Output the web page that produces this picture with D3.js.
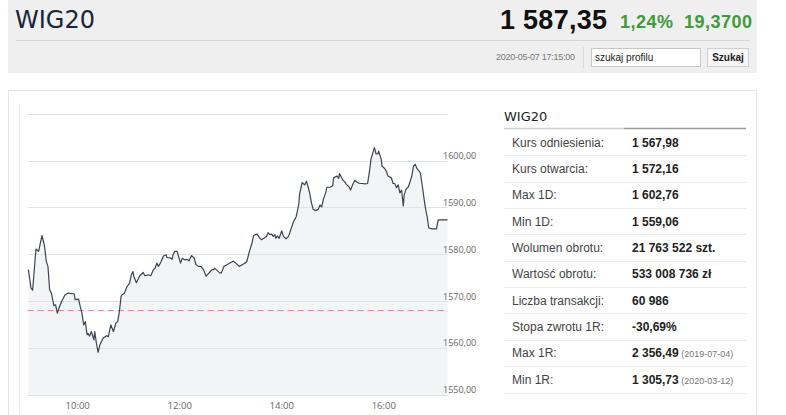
<!DOCTYPE html>
<html lang="pl">
<head>
<meta charset="UTF-8">
<title>WIG20</title>
<script src="https://d3js.org/d3.v7.min.js"></script>
<style>
  body { margin: 0; padding: 0; background: #fff; }
  svg { display: block; }
</style>
</head>
<body>
<svg id="page" width="786" height="415"></svg>

<script>
// intraday quotes
const times = ["09:02","09:05","09:07","09:10","09:11","09:14","09:18","09:21","09:23","09:25",
  "09:27","09:29","09:32","09:34","09:36","09:38","09:41","09:45","09:49","09:56",
  "09:57","10:01","10:03","10:05","10:07","10:09","10:11","10:12","10:14","10:16",
  "10:19","10:20","10:22","10:24","10:26","10:30","10:34","10:36","10:39","10:42",
  "10:45","10:47","10:49","10:51","10:52","10:55","10:58","11:01","11:03","11:05",
  "11:06","11:09","11:13","11:17","11:19","11:23","11:26","11:29","11:31","11:33",
  "11:35","11:38","11:41","11:44","11:45","11:49","11:51","11:52","11:54","11:57",
  "11:59","12:01","12:03","12:06","12:09","12:11","12:14","12:17","12:19","12:22",
  "12:25","12:28","12:31","12:34","12:36","12:38","12:40","12:41","12:43","12:47",
  "12:49","12:52","12:55","12:59","13:03","13:06","13:10","13:13","13:17","13:19",
  "13:22","13:25","13:27","13:31","13:34","13:36","13:39","13:42","13:44","13:46",
  "13:48","13:50","13:52","13:53","13:55","13:57","14:00","14:02","14:05","14:08",
  "14:10","14:14","14:17","14:20","14:21","14:24","14:27","14:29","14:31","14:33",
  "14:35","14:37","14:40","14:43","14:45","14:47","14:49","14:52","14:53","14:57",
  "15:00","15:01","15:05","15:07","15:08","15:12","15:14","15:16","15:19","15:21",
  "15:24","15:26","15:29","15:32","15:35","15:38","15:41","15:43","15:45","15:49",
  "15:51","15:53","15:54","15:57","15:58","16:01","16:03","16:05","16:09","16:11",
  "16:13","16:15","16:17","16:19","16:21","16:23","16:24","16:26","16:29","16:31",
  "16:33","16:35","16:37","16:39","16:43","16:45","16:47","16:49","16:51","16:53",
  "16:57","17:02","17:04","17:15"];
const values = [1576.7,1572.8,1572.3,1579.2,1581.1,1580.6,1584.0,1581.7,1578.5,1577.4,
  1572.4,1571.7,1569.0,1569.2,1567.4,1568.5,1569.9,1571.3,1571.7,1571.5,
  1570.3,1570.4,1568.8,1567.4,1564.9,1565.6,1562.8,1563.1,1562.5,1563.5,
  1561.7,1563.5,1561.0,1559.06,1560.6,1562.1,1562.6,1562.4,1564.9,1563.5,
  1565.3,1565.6,1567.7,1571.0,1571.3,1571.7,1573.1,1573.8,1575.6,1576.3,
  1575.3,1573.9,1575.4,1576.1,1575.4,1575.6,1575.4,1576.7,1577.0,1578.1,
  1577.4,1578.4,1579.6,1579.9,1579.3,1579.2,1578.9,1579.8,1580.6,1580.6,
  1579.3,1578.1,1579.1,1578.8,1578.9,1578.6,1579.7,1579.2,1577.8,1577.4,
  1577.4,1576.7,1575.3,1575.9,1576.3,1576.7,1576.7,1577.0,1576.7,1576.0,
  1576.0,1577.4,1577.7,1578.1,1578.5,1578.1,1577.4,1577.7,1578.1,1578.5,
  1580.6,1582.4,1584.0,1584.3,1583.5,1583.1,1583.4,1583.8,1584.6,1584.2,
  1584.3,1583.8,1584.2,1583.4,1583.9,1583.4,1585.0,1583.8,1583.3,1583.8,
  1584.9,1587.0,1588.0,1590.6,1592.8,1595.3,1594.8,1595.6,1594.4,1593.0,
  1590.9,1589.6,1589.3,1589.6,1590.5,1590.1,1591.7,1593.3,1594.3,1594.3,
  1594.6,1596.3,1596.7,1596.2,1597.2,1595.8,1595.5,1594.9,1594.4,1593.7,
  1595.1,1595.8,1595.3,1595.1,1595.1,1595.0,1595.1,1597.4,1600.3,1602.76,
  1601.4,1601.4,1602.0,1600.3,1598.8,1598.3,1597.7,1596.7,1596.3,1595.1,
  1595.1,1594.2,1594.8,1593.1,1593.7,1590.3,1592.6,1593.8,1594.4,1595.5,
  1596.7,1598.8,1599.2,1598.3,1597.4,1595.1,1592.4,1589.9,1588.1,1585.6,
  1585.4,1585.4,1587.35,1587.35];

const refPrice = 1567.98;
const yGrid = [1550, 1560, 1570, 1580, 1590, 1600, 1610];
const yLabels = [1550, 1560, 1570, 1580, 1590, 1600];
const xLabels = ["10:00", "12:00", "14:00", "16:00"];
const timeRange = ["09:00", "17:15"];

// header
const title = "WIG20";
const lastPrice = "1 587,35";
const changePct = "1,24%";
const changeAbs = "19,3700";
const stamp = "2020-05-07 17:15:00";

// table
const rowLabels = ["Kurs odniesienia:", "Kurs otwarcia:", "Max 1D:", "Min 1D:", "Wolumen obrotu:",
  "Wartość obrotu:", "Liczba transakcji:", "Stopa zwrotu 1R:", "Max 1R:", "Min 1R:"];
const rowValues = ["1 567,98", "1 572,16", "1 602,76", "1 559,06", "21 763 522 szt.",
  "533 008 736 zł", "60 986", "-30,69%", "2 356,49", "1 305,73"];
const rowNotes = ["", "", "", "", "", "", "", "", "(2019-07-04)", "(2020-03-12)"];

const svg = d3.select("#page");
const parse = d3.timeParse("%H:%M");
const pl = d3.formatLocale({decimal: ",", thousands: " ", grouping: [3], currency: ["", " zł"]});
const fmt = pl.format(".2f");

// ---- header panel
svg.append("rect").attr("x", 8).attr("y", -2).attr("width", 749).attr("height", 75)
  .attr("fill", "#efefef");
svg.append("line").attr("x1", 16).attr("x2", 750).attr("y1", 40.5).attr("y2", 40.5)
  .attr("stroke", "#d6d6d6");
svg.append("text").attr("x", 15).attr("y", 28)
  .style("font-family", "DejaVu Sans").style("font-size", "24px").attr("fill", "#16263a")
  .text(title);
svg.append("text").attr("x", 500).attr("y", 29)
  .style("font-family", "Liberation Sans").style("font-weight", "bold").style("font-size", "27px")
  .attr("fill", "#111").attr("textLength", 107).text(lastPrice);
svg.append("text").attr("x", 620).attr("y", 28)
  .style("font-family", "Liberation Sans").style("font-weight", "bold").style("font-size", "18px")
  .attr("fill", "#3f9a3f").attr("textLength", 53).text(changePct);
svg.append("text").attr("x", 684).attr("y", 28)
  .style("font-family", "Liberation Sans").style("font-weight", "bold").style("font-size", "18px")
  .attr("fill", "#3f9a3f").attr("textLength", 68).text(changeAbs);

svg.append("text").attr("x", 496).attr("y", 60)
  .style("font-family", "Liberation Sans").style("font-size", "9px").attr("fill", "#777")
  .attr("textLength", 79).text(stamp);
svg.append("line").attr("x1", 583.5).attr("x2", 583.5).attr("y1", 47).attr("y2", 68)
  .attr("stroke", "#d8d8d8");
svg.append("rect").attr("x", 591.5).attr("y", 48.5).attr("width", 109).attr("height", 18)
  .attr("fill", "#fff").attr("stroke", "#c8c8c8");
svg.append("text").attr("x", 595).attr("y", 61)
  .style("font-family", "Liberation Sans").style("font-size", "10px").attr("fill", "#222")
  .text("szukaj profilu");
svg.append("rect").attr("x", 707.5).attr("y", 48.5).attr("width", 41).attr("height", 18)
  .attr("fill", "#f6f6f6").attr("stroke", "#d0d0d0");
svg.append("text").attr("x", 728).attr("y", 61).attr("text-anchor", "middle")
  .style("font-family", "Liberation Sans").style("font-weight", "bold").style("font-size", "10px")
  .attr("fill", "#222").text("Szukaj");

// ---- main panel
svg.append("rect").attr("x", 8.5).attr("y", 90.5).attr("width", 748).attr("height", 340)
  .attr("fill", "#fff").attr("stroke", "#e4e4e4");
svg.append("line").attr("x1", 19.5).attr("x2", 19.5).attr("y1", 105).attr("y2", 415)
  .attr("stroke", "#eeeeee");

// ---- chart
const x = d3.scaleTime().domain(timeRange.map(parse)).range([26.7, 447.5]);
const y = d3.scaleLinear().domain([1550, 1610]).range([394.7, 113.7]);
const points = times.map((t, i) => ({t: parse(t), v: values[i]}));

const chart = svg.append("g");

chart.append("path").datum(points)
  .attr("fill", "#f3f4f6")
  .attr("d", d3.area().x(d => x(d.t)).y0(y(1550)).y1(d => y(d.v)));

chart.selectAll(".grid").data(yGrid).enter().append("line")
  .attr("class", "grid")
  .attr("x1", x.range()[0] + 1).attr("x2", x.range()[1])
  .attr("y1", d => Math.round(y(d)) + 0.5).attr("y2", d => Math.round(y(d)) + 0.5)
  .attr("stroke", "#e2e2e2");

chart.append("line")
  .attr("x1", x.range()[0] + 1).attr("x2", x.range()[1])
  .attr("y1", y(refPrice)).attr("y2", y(refPrice))
  .attr("stroke", "#e98a8a").attr("stroke-width", 1).attr("stroke-dasharray", "6,4");

chart.append("path").datum(points)
  .attr("fill", "none").attr("stroke", "#3b4352").attr("stroke-width", 1.2)
  .attr("stroke-linejoin", "round")
  .attr("d", d3.line().x(d => x(d.t)).y(d => y(d.v)));

chart.selectAll(".ylab").data(yLabels).enter().append("text")
  .attr("class", "ylab")
  .attr("x", 443).attr("y", d => y(d) - 1.5)
  .style("font-family", "Open Sans").style("font-size", "9px").attr("fill", "#666")
  .text(d => fmt(d));

chart.selectAll(".xlab").data(xLabels).enter().append("text")
  .attr("class", "xlab")
  .attr("x", d => x(parse(d))).attr("y", 409).attr("text-anchor", "middle")
  .style("font-family", "Open Sans").style("font-size", "9.5px").attr("fill", "#666")
  .text(d => d);

// ---- table
const tbl = svg.append("g");
tbl.append("text").attr("x", 504).attr("y", 121)
  .style("font-family", "DejaVu Sans").style("font-size", "13px").attr("fill", "#222")
  .text(title);
tbl.append("line").attr("x1", 504).attr("x2", 624).attr("y1", 128.5).attr("y2", 128.5)
  .attr("stroke", "#cfcfcf").attr("stroke-width", 1.5);
tbl.append("line").attr("x1", 624).attr("x2", 746).attr("y1", 128.5).attr("y2", 128.5)
  .attr("stroke", "#9a9a9a").attr("stroke-width", 1.5);

const rowY = d3.scaleLinear().domain([0, rowLabels.length]).range([129, 392.5]);
const rows = tbl.selectAll(".row").data(rowLabels).enter().append("g").attr("class", "row");
rows.append("line")
  .attr("x1", 504).attr("x2", 746)
  .attr("y1", (d, i) => Math.round(rowY(i + 1)) + 0.5).attr("y2", (d, i) => Math.round(rowY(i + 1)) + 0.5)
  .attr("stroke", "#ececec");
rows.append("text")
  .attr("x", 512).attr("y", (d, i) => rowY(i + 0.5) + 4.5)
  .style("font-family", "Liberation Sans").style("font-size", "12px").attr("fill", "#444")
  .text(d => d);
const vals = rows.append("text")
  .attr("x", 632).attr("y", (d, i) => rowY(i + 0.5) + 4.5)
  .style("font-family", "Liberation Sans").style("font-size", "12px").attr("fill", "#222");
vals.append("tspan").style("font-weight", "bold").text((d, i) => rowValues[i]);
vals.append("tspan").style("font-size", "9px").attr("fill", "#777")
  .text((d, i) => rowNotes[i] ? " " + rowNotes[i] : "");
</script>
</body>
</html>
